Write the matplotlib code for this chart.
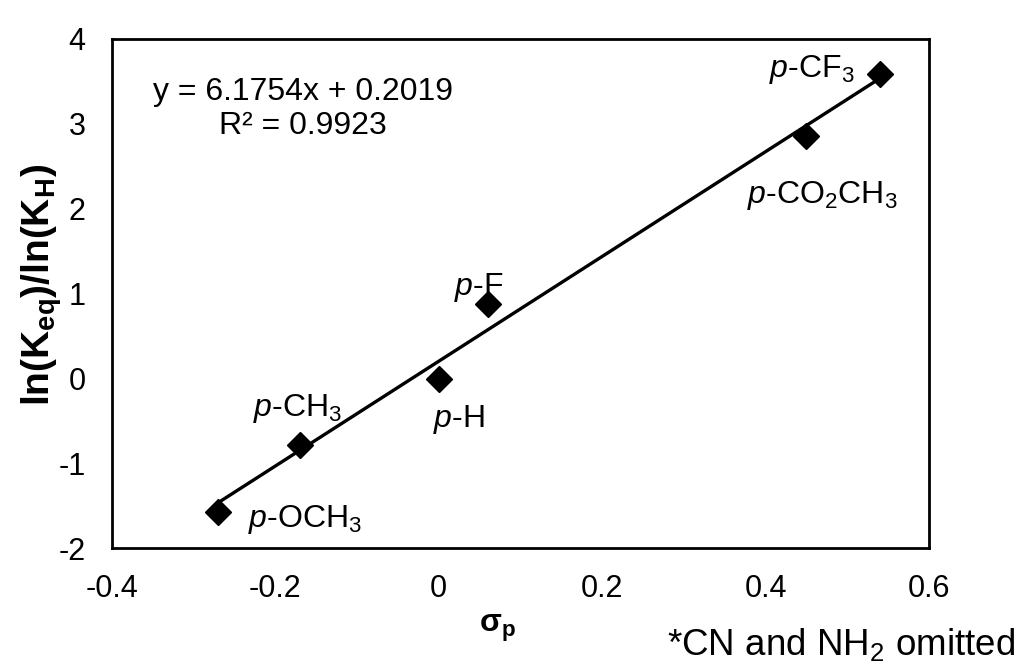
import numpy as np
import matplotlib.pyplot as plt

plt.rcParams['font.family'] = ['Liberation Sans', 'DejaVu Sans']
plt.rcParams['mathtext.fontset'] = 'custom'
plt.rcParams['mathtext.rm'] = 'Liberation Sans'
plt.rcParams['mathtext.it'] = 'Liberation Sans:italic'
plt.rcParams['mathtext.bf'] = 'Liberation Sans:bold'
plt.rcParams['axes.unicode_minus'] = False

# Hammett substituent constants and relative equilibrium constants
substituents = ['p-OCH3', 'p-CH3', 'p-H', 'p-F', 'p-CO2CH3', 'p-CF3']
sigma_p = [-0.27, -0.17, 0.0, 0.06, 0.45, 0.54]
ln_k = [-1.57, -0.79, -0.01, 0.88, 2.86, 3.59]

slope = 6.1754
intercept = 0.2019
r_squared = 0.9923

labels = [r'$\it{p}$-OCH$_3$', r'$\it{p}$-CH$_3$', r'$\it{p}$-H',
          r'$\it{p}$-F', r'$\it{p}$-CO$_2$CH$_3$', r'$\it{p}$-CF$_3$']
# left edge / baseline of each substituent label
label_pos = [(-0.233, -1.755), (-0.227, -0.44), (-0.007, -0.575),
             (0.018, 0.981), (0.377, 2.066), (0.404, 3.552)]

fig = plt.figure(figsize=(10.22, 6.71), dpi=100)
ax = fig.add_axes([0.1096, 0.1833, 0.7994, 0.7586])

fit_x = np.array([min(sigma_p), max(sigma_p)])
ax.plot(fit_x, slope * fit_x + intercept, color='black', lw=2.4, zorder=2)
ax.plot(sigma_p, ln_k, 'D', color='black', markersize=13, zorder=3)

for txt, (lx, ly) in zip(labels, label_pos):
    ax.text(lx, ly, txt, fontsize=23, ha='left', va='baseline')

ax.text(-0.166, 3.281, f'y = {slope}x + {intercept}', fontsize=23,
        ha='center', va='baseline')
ax.text(-0.166, 2.880, f'R² = {r_squared}', fontsize=23,
        ha='center', va='baseline')

ax.set_xlim(-0.4, 0.6)
ax.set_ylim(-2, 4)
ax.set_xticks([-0.4, -0.2, 0, 0.2, 0.4, 0.6])
ax.set_xticklabels(['-0.4', '-0.2', '0', '0.2', '0.4', '0.6'])
ax.set_yticks(range(-2, 5))
ax.tick_params(length=0, labelsize=22)
ax.tick_params(axis='x', pad=19)
ax.tick_params(axis='y', pad=19)
for sp in ax.spines.values():
    sp.set_linewidth(2)
    sp.set_color('black')

fig.text(0.041, 0.575, r'$\mathbf{ln(K_{eq})/ln(K_H)}$', fontsize=28,
         rotation=90, ha='center', va='center')
fig.text(0.487, 0.064, r'$\mathbf{\sigma_p}$', fontsize=23,
         ha='center', va='center')
fig.text(0.993, 0.04, r'*CN and NH$_2$ omitted', fontsize=26.5,
         ha='right', va='center')

fig.savefig('out.png', dpi=100)
